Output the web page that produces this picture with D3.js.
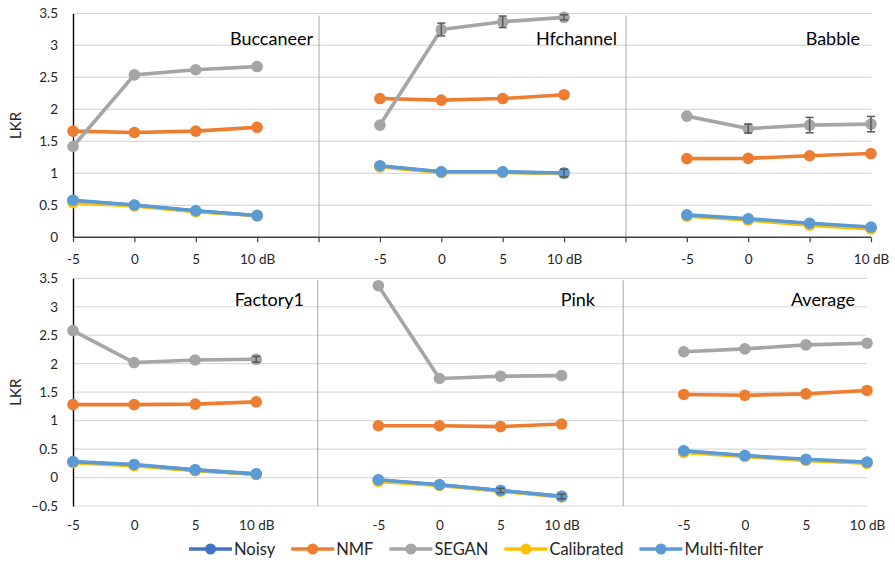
<!DOCTYPE html>
<html>
<head>
<meta charset="utf-8">
<script src="https://cdn.jsdelivr.net/npm/d3@7"></script>
<style>
  html, body { margin: 0; padding: 0; background: #fff; }
  svg { display: block; font-family: Lato, "Open Sans", sans-serif; }
</style>
</head>
<body>
<svg id="chart" width="895" height="568"></svg>
<script>
// SNR levels shown under each noise panel
const snrLabels = ["-5", "0", "5", "10 dB"];
const topPanels = ["Buccaneer", "Hfchannel", "Babble"];
const bottomPanels = ["Factory1", "Pink", "Average"];
const methods = ["Noisy", "NMF", "SEGAN", "Calibrated", "Multi-filter"];
const methodColors = ["#4472C4", "#ED7D31", "#A5A5A5", "#FFC000", "#5B9BD5"];

// LKR per panel (Buccaneer, Hfchannel, Babble, Factory1, Pink, Average) at -5, 0, 5, 10 dB
const noisy = [
  [0.57, 0.50, 0.41, 0.34],
  [1.11, 1.02, 1.02, 1.00],
  [0.34, 0.28, 0.21, 0.15],
  [0.27, 0.22, 0.13, 0.06],
  [-0.05, -0.13, -0.23, -0.33],
  [0.46, 0.38, 0.31, 0.26]
];
const nmf = [
  [1.66, 1.64, 1.66, 1.72],
  [2.17, 2.145, 2.17, 2.23],
  [1.23, 1.235, 1.275, 1.31],
  [1.28, 1.28, 1.29, 1.33],
  [0.91, 0.91, 0.895, 0.94],
  [1.46, 1.445, 1.47, 1.53]
];
const segan = [
  [1.42, 2.54, 2.62, 2.67],
  [1.755, 3.25, 3.37, 3.44],
  [1.895, 1.70, 1.755, 1.77],
  [2.58, 2.02, 2.065, 2.077],
  [3.37, 1.74, 1.78, 1.79],
  [2.21, 2.26, 2.33, 2.36]
];
const calibrated = [
  [0.54, 0.49, 0.40, 0.34],
  [1.10, 1.015, 1.015, 1.00],
  [0.33, 0.27, 0.19, 0.13],
  [0.26, 0.21, 0.12, 0.06],
  [-0.07, -0.14, -0.24, -0.34],
  [0.44, 0.37, 0.30, 0.25]
];
const multiFilter = [
  [0.58, 0.505, 0.415, 0.34],
  [1.12, 1.025, 1.025, 1.005],
  [0.35, 0.29, 0.22, 0.16],
  [0.28, 0.23, 0.135, 0.065],
  [-0.04, -0.128, -0.228, -0.333],
  [0.47, 0.386, 0.32, 0.27]
];
// half-widths of the error bars (0 = none drawn)
const seganErr = [
  [0, 0, 0, 0],
  [0, 0.10, 0.09, 0.04],
  [0, 0.07, 0.12, 0.12],
  [0, 0, 0, 0.05],
  [0, 0, 0, 0],
  [0, 0, 0, 0]
];
const multiErr = [
  [0, 0, 0, 0],
  [0, 0, 0, 0.06],
  [0, 0, 0, 0],
  [0, 0, 0, 0],
  [0, 0, 0.04, 0.04],
  [0, 0, 0, 0]
];
const topTicks = [0, 0.5, 1, 1.5, 2, 2.5, 3, 3.5];
const bottomTicks = [-0.5, 0, 0.5, 1, 1.5, 2, 2.5, 3, 3.5];

const seriesValues = [noisy, nmf, segan, calibrated, multiFilter];
const seriesErr = [null, null, seganErr, null, multiErr];

const svg = d3.select("#chart");
const textColor = "#262626";

// 14 category slots per row: 4 SNR points per panel, with a blank slot between panels
const slots = d3.range(14);

function drawRow(cfg) {
  const g = svg.append("g");
  const x = d3.scalePoint().domain(slots).range([cfg.x0, cfg.x1]);
  const y = d3.scaleLinear().domain([cfg.yMin, 3.5]).range([cfg.yBottom, cfg.yTop]);

  // horizontal gridlines
  g.append("g").selectAll("line").data(cfg.ticks.filter(t => !(cfg.axisLine && t === 0)))
    .join("line")
    .attr("x1", cfg.x0).attr("x2", cfg.x1)
    .attr("y1", d => y(d)).attr("y2", d => y(d))
    .attr("stroke", "#d9d9d9").attr("stroke-width", 1.2);

  // panel dividers in the blank slots
  g.append("g").selectAll("line").data([4, 9]).join("line")
    .attr("x1", d => x(d) + 0.5).attr("x2", d => x(d) + 0.5)
    .attr("y1", y(3.5) + 2).attr("y2", y(cfg.yMin))
    .attr("stroke", "#a6a6a6").attr("stroke-width", 1);

  // value axis
  const yAxis = g.append("g").attr("transform", `translate(${cfg.x0},0)`)
    .call(d3.axisLeft(y).tickValues(cfg.ticks).tickSize(0).tickPadding(15).tickFormat(d3.format("")));
  yAxis.select(".domain").attr("stroke", "#000").attr("stroke-width", 1.4);
  yAxis.selectAll("text").attr("font-size", 13.5).attr("fill", textColor)
    .attr("font-family", "Lato, sans-serif");

  // category axis
  const labelFor = s => (s % 5 === 4) ? "" : snrLabels[s % 5];
  const xAxis = g.append("g").attr("transform", `translate(0,${y(cfg.xAxisAt)})`)
    .call(d3.axisBottom(x).tickSize(cfg.axisLine ? 5 : 0).tickPadding(cfg.labelPad).tickFormat(labelFor));
  xAxis.select(".domain").attr("stroke", cfg.axisLine ? "#404040" : "none").attr("stroke-width", 1.4)
    .attr("d", `M${cfg.x0},0H${cfg.x1}`);
  xAxis.selectAll(".tick line").attr("stroke", "#404040").attr("stroke-width", 1.2);
  xAxis.selectAll("text").attr("font-size", 13.5).attr("fill", textColor)
    .attr("font-family", "Lato, sans-serif");

  // axis title
  g.append("text")
    .attr("transform", `translate(${cfg.titleX},${(y(3.5) + y(cfg.yMin)) / 2}) rotate(-90)`)
    .attr("text-anchor", "middle").attr("dominant-baseline", "central")
    .attr("font-size", 15).attr("fill", textColor).text("LKR");

  const line = d3.line().x(d => x(d.slot)).y(d => y(d.v));

  cfg.panels.forEach((name, p) => {
    const idx = cfg.panelOffset + p;
    seriesValues.forEach((vals, s) => {
      const pts = vals[idx].map((v, i) => ({ slot: p * 5 + i, v, e: seriesErr[s] ? seriesErr[s][idx][i] : 0 }));
      const sg = g.append("g");
      sg.append("path").datum(pts).attr("d", line)
        .attr("fill", "none").attr("stroke", methodColors[s]).attr("stroke-width", 3.6)
        .attr("stroke-linejoin", "round");
      sg.selectAll("circle").data(pts).join("circle")
        .attr("cx", d => x(d.slot)).attr("cy", d => y(d.v)).attr("r", 5.8)
        .attr("fill", methodColors[s]);
      const eb = sg.selectAll("g.err").data(pts.filter(d => d.e > 0)).join("g").attr("class", "err");
      eb.append("line")
        .attr("x1", d => x(d.slot)).attr("x2", d => x(d.slot))
        .attr("y1", d => y(d.v - d.e)).attr("y2", d => y(d.v + d.e));
      eb.append("line")
        .attr("x1", d => x(d.slot) - 4).attr("x2", d => x(d.slot) + 4)
        .attr("y1", d => y(d.v + d.e)).attr("y2", d => y(d.v + d.e));
      eb.append("line")
        .attr("x1", d => x(d.slot) - 4).attr("x2", d => x(d.slot) + 4)
        .attr("y1", d => y(d.v - d.e)).attr("y2", d => y(d.v - d.e));
      eb.selectAll("line").attr("stroke", "#595959").attr("stroke-width", 1.5);
    });
    // panel name, right side of each panel
    g.append("text")
      .attr("x", cfg.nameRight[p]).attr("y", cfg.nameY)
      .attr("text-anchor", "end").attr("dominant-baseline", "central")
      .attr("font-size", 18).attr("fill", "#000").text(name);
  });
}

drawRow({
  panels: topPanels, panelOffset: 0,
  x0: 73, x1: 871, yTop: 13.5, yBottom: 237.3, yMin: 0, ticks: topTicks,
  axisLine: true, xAxisAt: 0, labelPad: 12, titleX: 15,
  nameRight: [313, 617, 860], nameY: 38
});
drawRow({
  panels: bottomPanels, panelOffset: 3,
  x0: 73, x1: 867, yTop: 278.3, yBottom: 506, yMin: -0.5, ticks: bottomTicks,
  axisLine: false, xAxisAt: -0.5, labelPad: 14, titleX: 15,
  nameRight: [304, 595, 855], nameY: 299
});

// legend
const legend = svg.append("g");
const legendGap = 16;
let lx = 0;
methods.forEach((m, i) => {
  const item = legend.append("g").attr("transform", `translate(${lx},0)`);
  item.append("line").attr("x1", 0).attr("x2", 43).attr("y1", 0).attr("y2", 0)
    .attr("stroke", methodColors[i]).attr("stroke-width", 3.6);
  item.append("circle").attr("cx", 21.5).attr("cy", 0).attr("r", 5.5).attr("fill", methodColors[i]);
  const t = item.append("text").attr("x", 45).attr("y", 0).attr("dominant-baseline", "central")
    .attr("font-size", 16.5).attr("fill", textColor).text(m);
  lx += 45 + t.node().getComputedTextLength() + legendGap;
});
const legendWidth = lx - legendGap;
legend.attr("transform", `translate(${476 - legendWidth / 2},549)`);
</script>
</body>
</html>
